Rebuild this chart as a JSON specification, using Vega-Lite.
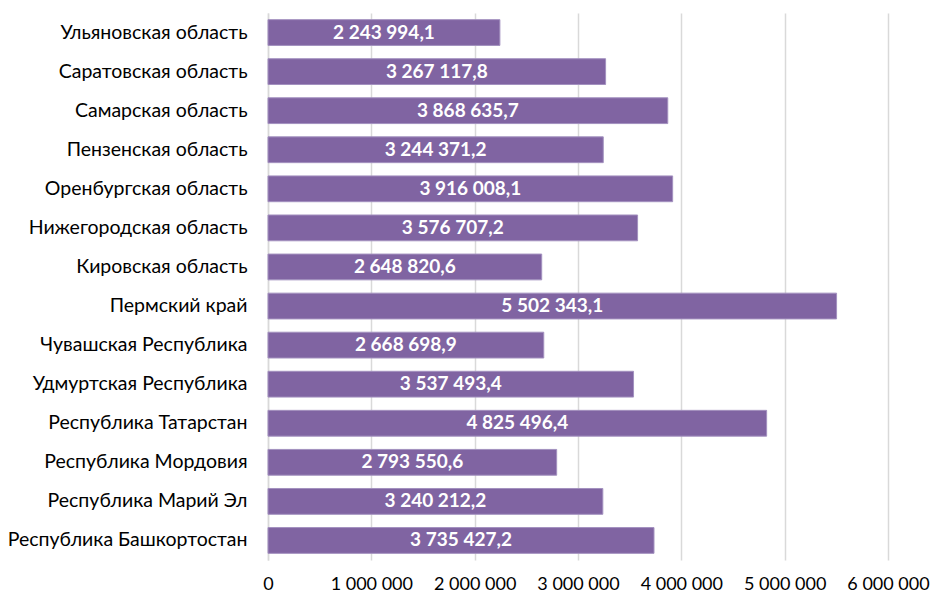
{
  "$schema": "https://vega.github.io/schema/vega-lite/v6.json",
  "autosize": {"type": "none"},
  "width": 620,
  "height": 547,
  "padding": {"left": 268, "top": 13, "right": 44, "bottom": 33},
  "background": "white",
  "config": {
    "locale": {"number": {"decimal": ",", "thousands": "\u00a0", "grouping": [3], "currency": ["", ""]}},
    "view": {"stroke": null},
    "font": "Lato"
  },
  "data": {
    "values": [
      {"region": "Ульяновская область", "value": 2243994.1},
      {"region": "Саратовская область", "value": 3267117.8},
      {"region": "Самарская область", "value": 3868635.7},
      {"region": "Пензенская область", "value": 3244371.2},
      {"region": "Оренбургская область", "value": 3916008.1},
      {"region": "Нижегородская область", "value": 3576707.2},
      {"region": "Кировская область", "value": 2648820.6},
      {"region": "Пермский край", "value": 5502343.1},
      {"region": "Чувашская Республика", "value": 2668698.9},
      {"region": "Удмуртская Республика", "value": 3537493.4},
      {"region": "Республика Татарстан", "value": 4825496.4},
      {"region": "Республика Мордовия", "value": 2793550.6},
      {"region": "Республика Марий Эл", "value": 3240212.2},
      {"region": "Республика Башкортостан", "value": 3735427.2}
    ]
  },
  "encoding": {
    "y": {
      "field": "region",
      "type": "nominal",
      "sort": null,
      "scale": {"paddingInner": 0.34, "paddingOuter": 0.17},
      "axis": {
        "title": null,
        "ticks": false,
        "domain": true,
        "domainColor": "#d9d9d9",
        "domainWidth": 1.5,
        "labelPadding": 21,
        "labelFontSize": 19.5,
        "labelLimit": 400,
        "labelColor": "#000000",
        "labelFont": "Lato"
      }
    },
    "x": {
      "field": "value",
      "type": "quantitative",
      "scale": {"domain": [0, 6000000], "nice": false},
      "axis": {
        "title": null,
        "values": [0, 1000000, 2000000, 3000000, 4000000, 5000000, 6000000],
        "format": ",d",
        "domain": false,
        "ticks": false,
        "grid": true,
        "gridColor": "#d9d9d9",
        "gridWidth": 1.5,
        "labelPadding": 15,
        "labelOverlap": false,
        "labelFlush": false,
        "labelFontSize": 18,
        "labelColor": "#000000",
        "labelFont": "Lato"
      }
    }
  },
  "layer": [
    {
      "mark": {"type": "bar", "color": "#8064a2", "stroke": "#a391bf", "strokeWidth": 1}
    },
    {
      "mark": {"type": "text", "color": "white", "fontWeight": "bold", "fontSize": 19, "font": "Lato", "baseline": "middle", "align": "center"},
      "encoding": {
        "x": {"field": "value", "type": "quantitative", "stack": "zero", "bandPosition": 0.5},
        "text": {"field": "value", "type": "quantitative", "format": ",.1f"}
      }
    }
  ]
}
